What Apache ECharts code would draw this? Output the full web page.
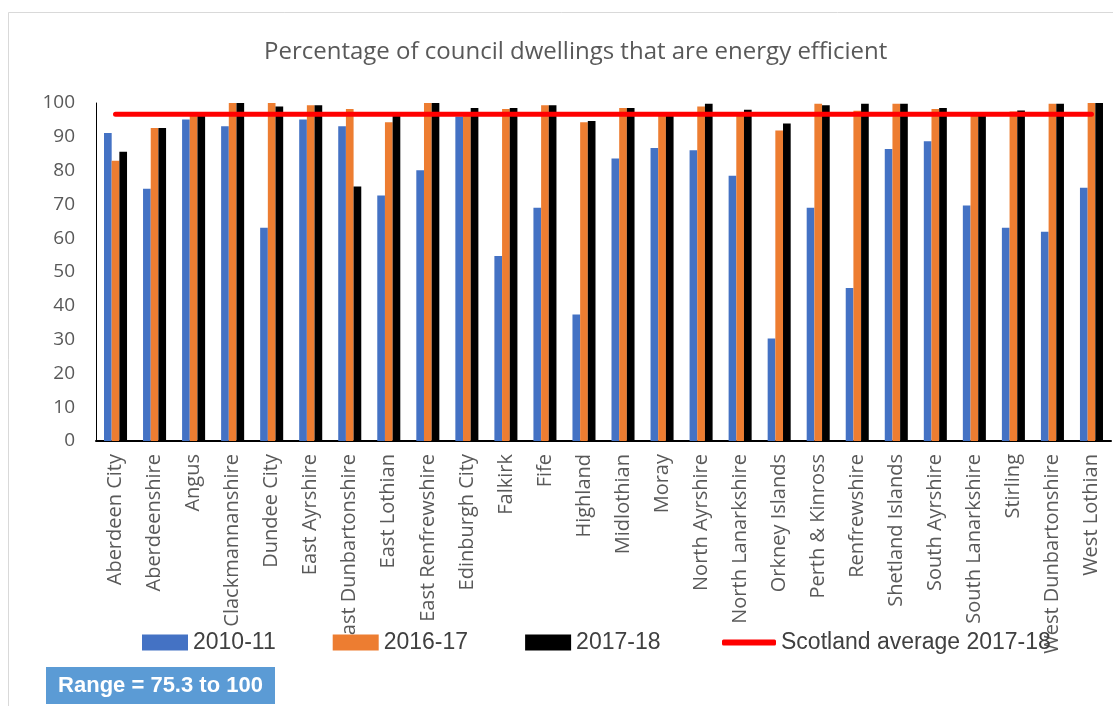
<!DOCTYPE html>
<html>
<head>
<meta charset="utf-8">
<script src="https://cdn.jsdelivr.net/npm/echarts@6/dist/echarts.min.js"></script>
<style>
  html, body { margin: 0; padding: 0; background: #ffffff; }
  #chart { width: 1113px; height: 706px; }
</style>
</head>
<body>
<div id="chart"></div>
<script>
// Council areas on the category axis
const councils = [
  'Aberdeen City', 'Aberdeenshire', 'Angus', 'Clackmannanshire', 'Dundee City',
  'East Ayrshire', 'East Dunbartonshire', 'East Lothian', 'East Renfrewshire',
  'Edinburgh City', 'Falkirk', 'Fife', 'Highland', 'Midlothian', 'Moray',
  'North Ayrshire', 'North Lanarkshire', 'Orkney Islands', 'Perth & Kinross',
  'Renfrewshire', 'Shetland Islands', 'South Ayrshire', 'South Lanarkshire',
  'Stirling', 'West Dunbartonshire', 'West Lothian'
];

// Percentage of council dwellings meeting the energy efficiency standard
const pct2010_11 = [
  91.1, 74.6, 95.1, 93.1, 63.1, 95.1, 93.1, 72.6, 80.1, 96.0, 54.7, 69.0, 37.4,
  83.6, 86.7, 86.0, 78.5, 30.3, 69.0, 45.3, 86.4, 88.7, 69.7, 63.1, 61.9, 74.9
];
const pct2016_17 = [
  82.9, 92.6, 96.3, 100, 100, 99.3, 98.2, 94.3, 100, 97.0, 98.2, 99.3, 94.3,
  98.5, 96.5, 99.0, 97.0, 91.9, 99.8, 97.7, 99.8, 98.2, 97.0, 97.5, 99.8, 100
];
const pct2017_18 = [
  85.6, 92.6, 96.8, 100, 99.0, 99.3, 75.3, 96.5, 100, 98.5, 98.5, 99.3, 94.7,
  98.5, 96.5, 99.8, 98.0, 93.9, 99.3, 99.8, 99.8, 98.5, 96.3, 97.8, 99.8, 100
];
// National figure for 2017-18, one point per council
const scotlandAvg2017_18 = [
  96.7, 96.7, 96.7, 96.7, 96.7, 96.7, 96.7, 96.7, 96.7, 96.7, 96.7, 96.7, 96.7,
  96.7, 96.7, 96.7, 96.7, 96.7, 96.7, 96.7, 96.7, 96.7, 96.7, 96.7, 96.7, 96.7
];

const seriesNames = ['2010-11', '2016-17', '2017-18', 'Scotland average 2017-18'];
const yTicks = { min: 0, max: 100, step: 10 };
const titleText = 'Percentage of council dwellings that are energy efficient';
const rangeNote = 'Range = 75.3 to 100';

const labelFont = "'Open Sans', 'Noto Sans', sans-serif";
const legendFont = "'Liberation Sans', Arial, sans-serif";
const textGrey = '#595959';
const legendTop = 626;

const chart = echarts.init(document.getElementById('chart'), null, { renderer: 'canvas' });

const legendText = { fontFamily: legendFont, fontSize: 23, color: '#404040' };

const option = {
  backgroundColor: '#ffffff',
  animation: false,
  title: {
    text: titleText,
    left: 259,
    top: 35,
    textStyle: { fontFamily: labelFont, fontSize: 24, fontWeight: 'normal', color: textGrey }
  },
  legend: [
    {
      // bar series keys
      left: 137,
      top: legendTop,
      itemWidth: 46,
      itemHeight: 16,
      itemGap: 57,
      icon: 'rect',
      textStyle: legendText,
      data: seriesNames.slice(0, 3)
    },
    {
      // reference line key
      left: 717,
      top: legendTop,
      itemWidth: 54,
      itemHeight: 6,
      icon: 'roundRect',
      textStyle: legendText,
      data: [seriesNames[3]]
    }
  ],
  grid: { left: 96, right: 2, top: 103, bottom: 265, containLabel: false },
  xAxis: {
    type: 'category',
    data: councils,
    boundaryGap: true,
    axisLine: { show: true, lineStyle: { color: '#000000', width: 2 } },
    axisTick: { show: false },
    axisLabel: {
      interval: 0,
      rotate: 90,
      margin: 13,
      fontFamily: labelFont,
      fontSize: 20,
      color: textGrey
    }
  },
  yAxis: {
    type: 'value',
    min: yTicks.min,
    max: yTicks.max,
    interval: yTicks.step,
    axisLine: { show: true, lineStyle: { color: '#000000', width: 1 } },
    axisTick: { show: false },
    splitLine: { show: false },
    axisLabel: { margin: 21, fontFamily: labelFont, fontSize: 19, color: textGrey }
  },
  series: [
    {
      name: seriesNames[0], type: 'bar', data: pct2010_11,
      barGap: '0%', barCategoryGap: '41%',
      itemStyle: { color: '#4472C4' }
    },
    {
      name: seriesNames[1], type: 'bar', data: pct2016_17,
      barGap: '0%', barCategoryGap: '41%',
      itemStyle: { color: '#ED7D31' }
    },
    {
      name: seriesNames[2], type: 'bar', data: pct2017_18,
      barGap: '0%', barCategoryGap: '41%',
      itemStyle: { color: '#000000' }
    },
    {
      name: seriesNames[3], type: 'line', data: scotlandAvg2017_18,
      symbol: 'none', z: 5,
      lineStyle: { color: '#FF0000', width: 5, cap: 'round' },
      itemStyle: { color: '#FF0000' }
    }
  ],
  graphic: [
    {
      // light chart frame
      type: 'rect', silent: true, z: -1,
      shape: { x: 8.5, y: 12.5, width: 1200, height: 800 },
      style: { fill: 'none', stroke: '#d9d9d9', lineWidth: 1 }
    },
    {
      type: 'group', left: 46, top: 667,
      children: [
        { type: 'rect', shape: { x: 0, y: 0, width: 229, height: 37 }, style: { fill: '#5B9BD5' } },
        {
          type: 'text', x: 114.5, y: 19,
          style: {
            text: rangeNote, fill: '#ffffff', align: 'center', verticalAlign: 'middle',
            font: "bold 22px 'Liberation Sans', Arial, sans-serif"
          }
        }
      ]
    }
  ]
};

chart.setOption(option);
</script>
</body>
</html>
